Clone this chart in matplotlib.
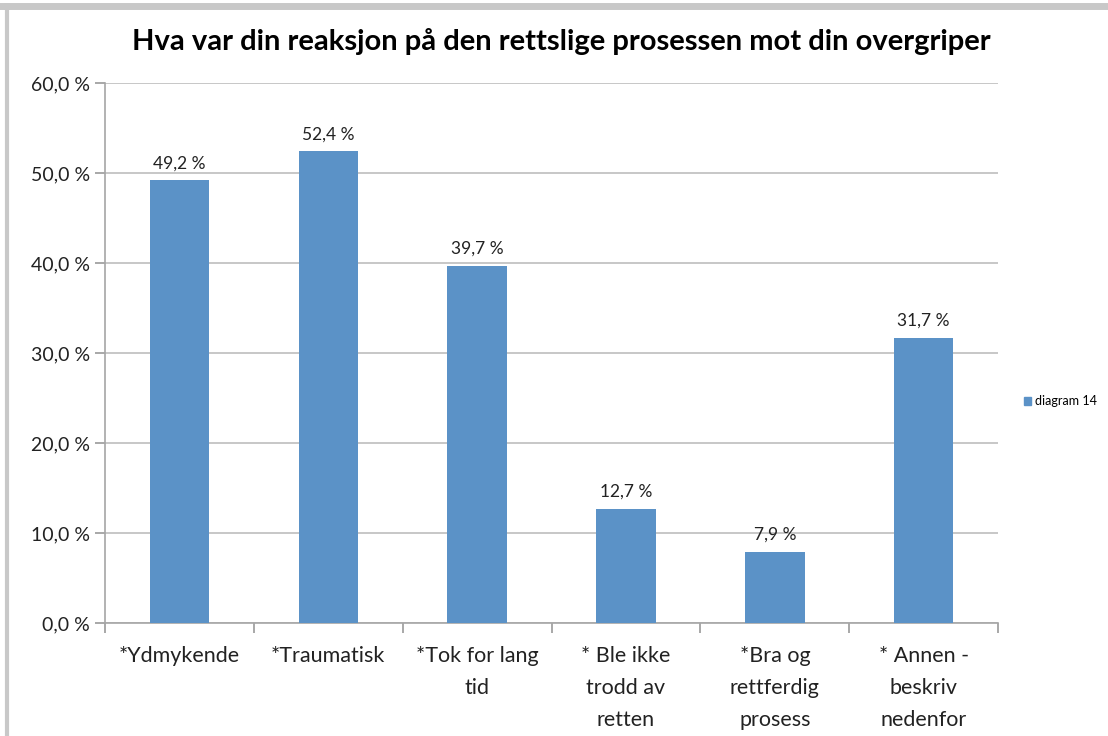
import numpy as np
import matplotlib.pyplot as plt
from matplotlib.patches import Rectangle
from matplotlib.lines import Line2D

# Data
categories = ['*Ydmykende', '*Traumatisk', '*Tok for lang\ntid',
              '* Ble ikke\ntrodd av\nretten', '*Bra og\nrettferdig\nprosess',
              '* Annen -\nbeskriv\nnedenfor']
values = [49.2, 52.4, 39.7, 12.7, 7.9, 31.7]
series_name = 'diagram 14'
title = 'Hva var din reaksjon på den rettslige prosessen mot din overgriper'

plt.rcParams['font.family'] = ['Lato', 'DejaVu Sans']
bar_color = '#5B92C7'
grid_color = '#BEBEBE'

fig = plt.figure(figsize=(11.08, 7.36), dpi=100)
ax = fig.add_axes([0.0948, 0.1535, 0.806, 0.7337])

x = np.arange(len(categories))
bars = ax.bar(x, values, width=0.40, color=bar_color, zorder=3, label=series_name)

for xi, v in zip(x, values):
    ax.text(xi, v + 1.0, f'{v:.1f} %'.replace('.', ','), ha='center', va='bottom',
            fontsize=12.5, color='#222222')

ax.set_xlim(-0.5, len(categories) - 0.5)
ax.set_ylim(0, 60)
ax.set_yticks(np.arange(0, 61, 10))
ax.set_yticklabels([f'{t:.1f} %'.replace('.', ',') for t in np.arange(0, 61, 10)],
                   fontsize=14, color='#222222')
ax.yaxis.grid(True, color=grid_color, linewidth=1.2, zorder=0)

# category ticks at boundaries, labels centered
ax.set_xticks(np.arange(-0.5, len(categories), 1.0))
ax.set_xticklabels([])
ax.tick_params(axis='x', length=7, color='#999999', width=1.2)
ax.tick_params(axis='y', length=7, color='#999999', width=1.2, pad=4)
for xi, lab in zip(x, categories):
    ax.text(xi, -2.6, lab, ha='center', va='top', fontsize=15.5,
            color='#222222', linespacing=1.75)

for s in ['top', 'right']:
    ax.spines[s].set_visible(False)
for s in ['left', 'bottom']:
    ax.spines[s].set_color('#A6A6A6')
    ax.spines[s].set_linewidth(1.2)

fig.text(0.507, 0.943, title, ha='center', va='center', fontsize=21,
         fontweight='bold', color='#000000')

# legend
fig.legend(handles=[Rectangle((0, 0), 1, 1, color=bar_color)], labels=[series_name],
           loc='center left', bbox_to_anchor=(0.914, 0.455), frameon=False,
           fontsize=9, handlelength=0.6, handleheight=0.6, handletextpad=0.3)

# outer frame of the screenshot
fig.add_artist(Line2D([0, 1], [0.992, 0.992], transform=fig.transFigure,
                      color='#C8C8C8', linewidth=5))
fig.add_artist(Line2D([0.006, 0.006], [0, 0.992], transform=fig.transFigure,
                      color='#C8C8C8', linewidth=3))

fig.savefig('out.png', dpi=100)
